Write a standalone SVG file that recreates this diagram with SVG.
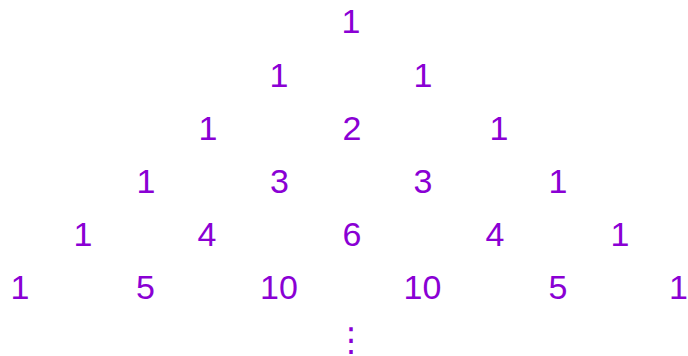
<svg xmlns="http://www.w3.org/2000/svg" width="688" height="356" viewBox="0 0 688 356">
<style>
text{font-family:"Liberation Sans",Arial,sans-serif;font-size:34px;fill:#8a00d4;text-anchor:middle}
.dots{font-family:"DejaVu Sans",sans-serif;font-size:33px}
</style>
<rect width="688" height="356" fill="#fff"/>
<g id="row0"><text x="351" y="33">1</text></g>
<g id="row1"><text x="279" y="87">1</text><text x="423" y="87">1</text></g>
<g id="row2"><text x="208" y="140">1</text><text x="352" y="140">2</text><text x="499" y="140">1</text></g>
<g id="row3"><text x="146" y="193">1</text><text x="279.5" y="193">3</text><text x="423" y="193">3</text><text x="558" y="193">1</text></g>
<g id="row4"><text x="83" y="246">1</text><text x="207" y="246">4</text><text x="352" y="246">6</text><text x="495" y="246">4</text><text x="620" y="246">1</text></g>
<g id="row5"><text x="20" y="299">1</text><text x="145.5" y="299">5</text><text x="279" y="299">10</text><text x="422.5" y="299">10</text><text x="558" y="299">5</text><text x="678.5" y="299">1</text></g>
<g id="ellipsis"><text class="dots" x="351" y="351">⋮</text></g>
</svg>
